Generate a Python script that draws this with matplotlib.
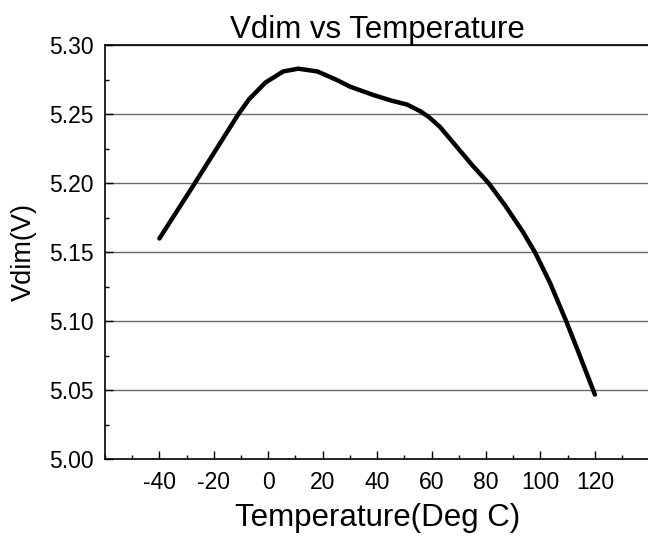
import numpy as np
import matplotlib.pyplot as plt
from matplotlib.ticker import MultipleLocator

# values
temp = [-40, -27, -19, -11, -7, -1, 5.5, 11, 18, 25, 30, 38.5, 45, 51, 56, 59,
        63, 69, 75, 81, 87, 93.5, 98, 103.5, 109.5, 114.5, 120]
vdim = [5.160, 5.200, 5.225, 5.250, 5.261, 5.273, 5.281, 5.283, 5.281, 5.275, 5.270,
        5.264, 5.260, 5.257, 5.252, 5.248, 5.241, 5.227, 5.213, 5.200, 5.184, 5.165,
        5.150, 5.128, 5.100, 5.075, 5.047]

x_ticks = [-40, -20, 0, 20, 40, 60, 80, 100, 120]
y_ticks = [5.00, 5.05, 5.10, 5.15, 5.20, 5.25, 5.30]

plt.rcParams['font.family'] = ['Liberation Sans', 'DejaVu Sans']

fig = plt.figure(figsize=(6.48, 5.38), dpi=100)
ax = fig.add_axes([0.162, 0.146, 0.84, 0.77])

ax.plot(temp, vdim, color='black', linewidth=3.2, solid_capstyle='round', solid_joinstyle='round')

ax.set_xlim(-60, 140)
ax.set_ylim(5.00, 5.30)
ax.set_xticks(x_ticks)
ax.set_xticklabels([str(t) for t in x_ticks])
ax.set_yticks(y_ticks)
ax.set_yticklabels(["%.2f" % v for v in y_ticks])
ax.xaxis.set_minor_locator(MultipleLocator(10))
ax.yaxis.set_minor_locator(MultipleLocator(0.025))

ax.grid(axis='y', which='major', color='#6a6a6a', linewidth=1.0)
ax.tick_params(which='major', direction='in', length=6, width=1, labelsize=16.5)
ax.tick_params(axis='y', which='major', pad=8)
ax.tick_params(axis='x', which='major', pad=8)
ax.tick_params(which='minor', direction='in', length=3, width=1)
ax.tick_params(top=False, right=False, which='both')

for s in ['left', 'bottom', 'top']:
    ax.spines[s].set_linewidth(1.2)
ax.spines['right'].set_visible(False)

ax.set_title("Vdim vs Temperature", fontsize=22.5, pad=-2)
ax.set_xlabel("Temperature(Deg C)", fontsize=22.5, labelpad=7)
ax.set_ylabel("Vdim(V)", fontsize=19.5, labelpad=9)

fig.savefig("out.png", dpi=100)
